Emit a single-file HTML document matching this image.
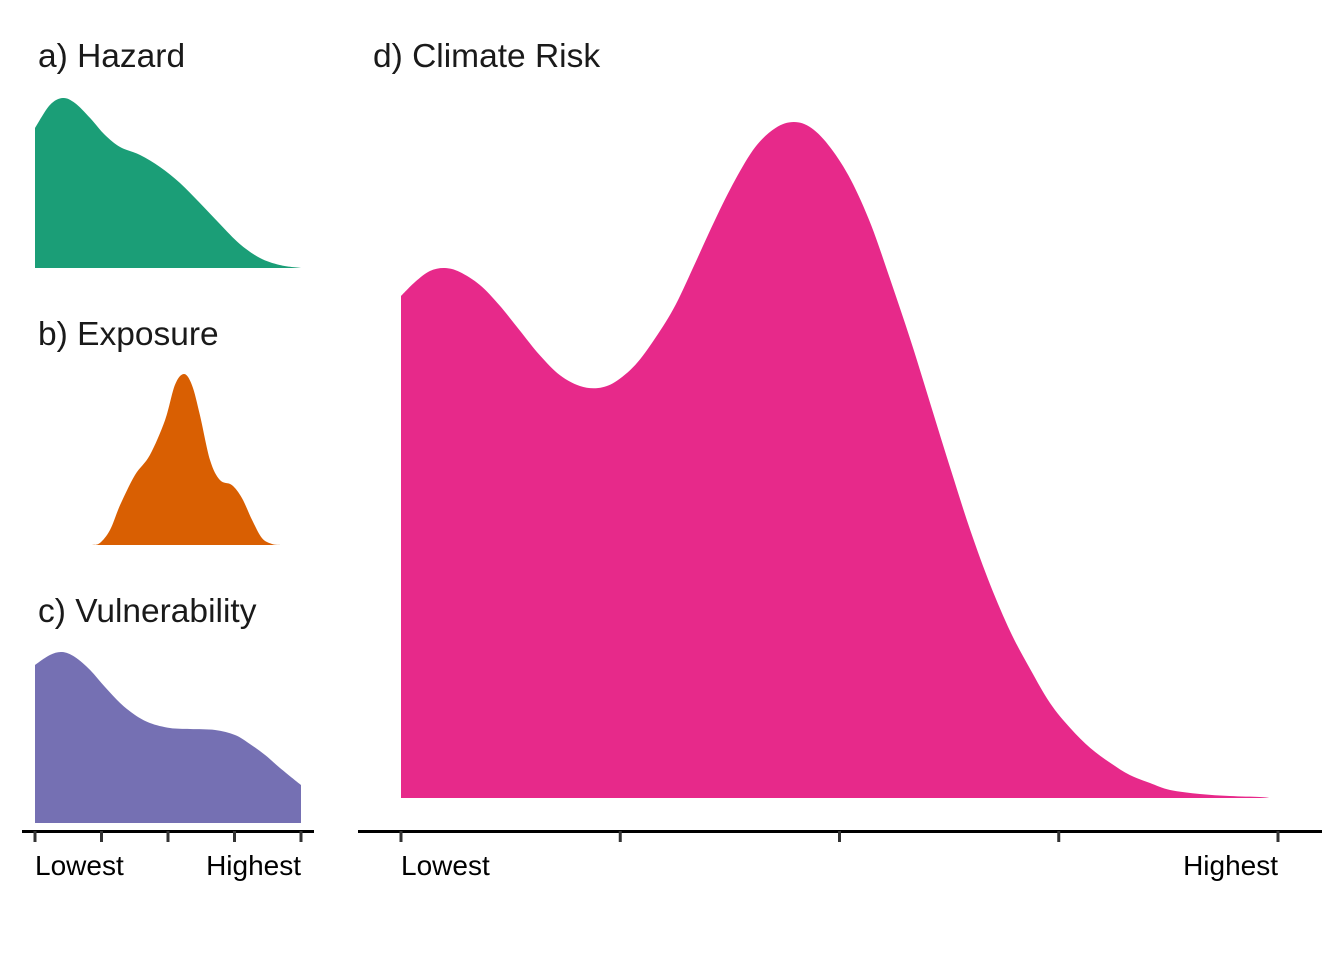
<!DOCTYPE html>
<html><head><meta charset="utf-8"><style>
html,body{margin:0;padding:0;background:#fff;}
svg{display:block;font-family:"Liberation Sans",sans-serif;}
</style></head><body>
<svg id="chart" width="1344" height="960" viewBox="0 0 1344 960">
<g id="marks"></g>
<g id="axes"></g>
<text x="38" y="67" font-size="33.5" fill="#1a1a1a">a) Hazard</text>
<text x="38" y="345" font-size="33.5" fill="#1a1a1a">b) Exposure</text>
<text x="38" y="622" font-size="33.5" fill="#1a1a1a">c) Vulnerability</text>
<text x="373" y="67" font-size="33.5" fill="#1a1a1a">d) Climate Risk</text>
</svg>
<script>
// x positions as fraction of axis (0=Lowest,1=Highest); y density heights (relative)
const hazardX=[0,0.056,0.105,0.15,0.207,0.263,0.32,0.395,0.47,0.545,0.62,0.695,0.77,0.846,0.92,1];
const hazardY=[140,163,170,165,150,133,121,113,101,85,65,44,24,10,3,0];
const exposureX=[0.215,0.244,0.282,0.32,0.376,0.432,0.489,0.526,0.56,0.59,0.62,0.658,0.695,0.74,0.778,0.816,0.853,0.891,0.925];
const exposureY=[0,2,15,40,70,90,125,160,171,160,130,85,65,60,47,25,7,1,0];
const vulnX=[0,0.056,0.102,0.15,0.207,0.263,0.32,0.376,0.432,0.507,0.583,0.677,0.752,0.808,0.865,0.921,1];
const vulnY=[158,168,171,166,153,136,120,108,100,95,94,93,88,79,68,55,38];
const riskX=[0,0.016,0.033,0.05,0.067,0.09,0.112,0.135,0.158,0.181,0.204,0.225,0.244,0.267,0.29,0.313,0.336,0.358,0.381,0.404,0.427,0.448,0.468,0.49,0.513,0.536,0.558,0.581,0.604,0.627,0.649,0.672,0.695,0.718,0.74,0.763,0.786,0.809,0.831,0.854,0.877,0.911,0.945,0.979,0.99];
const riskY=[502,516,527,530,526,513,493,468,443,423,412,410,416,433,460,493,536,578,618,651,670,676,670,650,618,573,518,458,393,328,268,213,166,128,95,70,50,35,23,15,8,4,2,1,0];
const tickLabels=["Lowest","Highest"];
const NS="http://www.w3.org/2000/svg";
const marks=document.getElementById('marks');
const axes=document.getElementById('axes');
function panel(xs,ys,x0,x1,base,scale,color,name){
  const sx=v=>x0+v*(x1-x0), sy=v=>base-v*scale;
  const P=xs.map((x,i)=>[sx(x),sy(ys[i])]);
  let d=`M${P[0][0]},${base} L${P[0][0].toFixed(1)},${P[0][1].toFixed(1)}`;
  for(let i=0;i<P.length-1;i++){
    const p0=P[Math.max(0,i-1)],p1=P[i],p2=P[i+1],p3=P[Math.min(P.length-1,i+2)];
    const c1=[p1[0]+(p2[0]-p0[0])/6,p1[1]+(p2[1]-p0[1])/6];
    const c2=[p2[0]-(p3[0]-p1[0])/6,p2[1]-(p3[1]-p1[1])/6];
    d+=` C${c1[0].toFixed(1)},${c1[1].toFixed(1)} ${c2[0].toFixed(1)},${c2[1].toFixed(1)} ${p2[0].toFixed(1)},${p2[1].toFixed(1)}`;
  }
  d+=` L${P[P.length-1][0]},${base} Z`;
  const p=document.createElementNS(NS,'path');
  p.setAttribute('d',d);p.setAttribute('fill',color);
  
  
  marks.appendChild(p);
}
panel(hazardX,hazardY,35,301,268,1,'#1b9e77','hazard-density');
panel(exposureX,exposureY,35,301,545,1,'#d95f02','exposure-density');
panel(vulnX,vulnY,35,301,823,1,'#7570b3','vulnerability-density');
panel(riskX,riskY,401,1278,798,1,'#e7298a','climate-risk-density');
function axis(lx0,lx1,t0,t1,name){
  const l=document.createElementNS(NS,'line');
  l.setAttribute('x1',lx0);l.setAttribute('x2',lx1);l.setAttribute('y1',831.5);l.setAttribute('y2',831.5);
  l.setAttribute('stroke','#000');l.setAttribute('stroke-width',3);
  
  
  axes.appendChild(l);
  for(let i=0;i<5;i++){
    const x=t0+i*(t1-t0)/4;
    const t=document.createElementNS(NS,'line');
    t.setAttribute('x1',x);t.setAttribute('x2',x);t.setAttribute('y1',831);t.setAttribute('y2',842);
    t.setAttribute('stroke','#333');t.setAttribute('stroke-width',3);
    
    
    axes.appendChild(t);
  }
  [[t0,'start',tickLabels[0]],[t1,'end',tickLabels[1]]].forEach(([x,a,s])=>{
    const tx=document.createElementNS(NS,'text');
    tx.setAttribute('x',x);tx.setAttribute('y',875);tx.setAttribute('font-size',28);
    tx.setAttribute('text-anchor',a);tx.setAttribute('fill','#000');
    tx.textContent=s;
    
    
    axes.appendChild(tx);
  });
}
axis(22,314,35,301,'left-x');
axis(358,1322,401,1278,'risk-x');
</script>
</body></html>
